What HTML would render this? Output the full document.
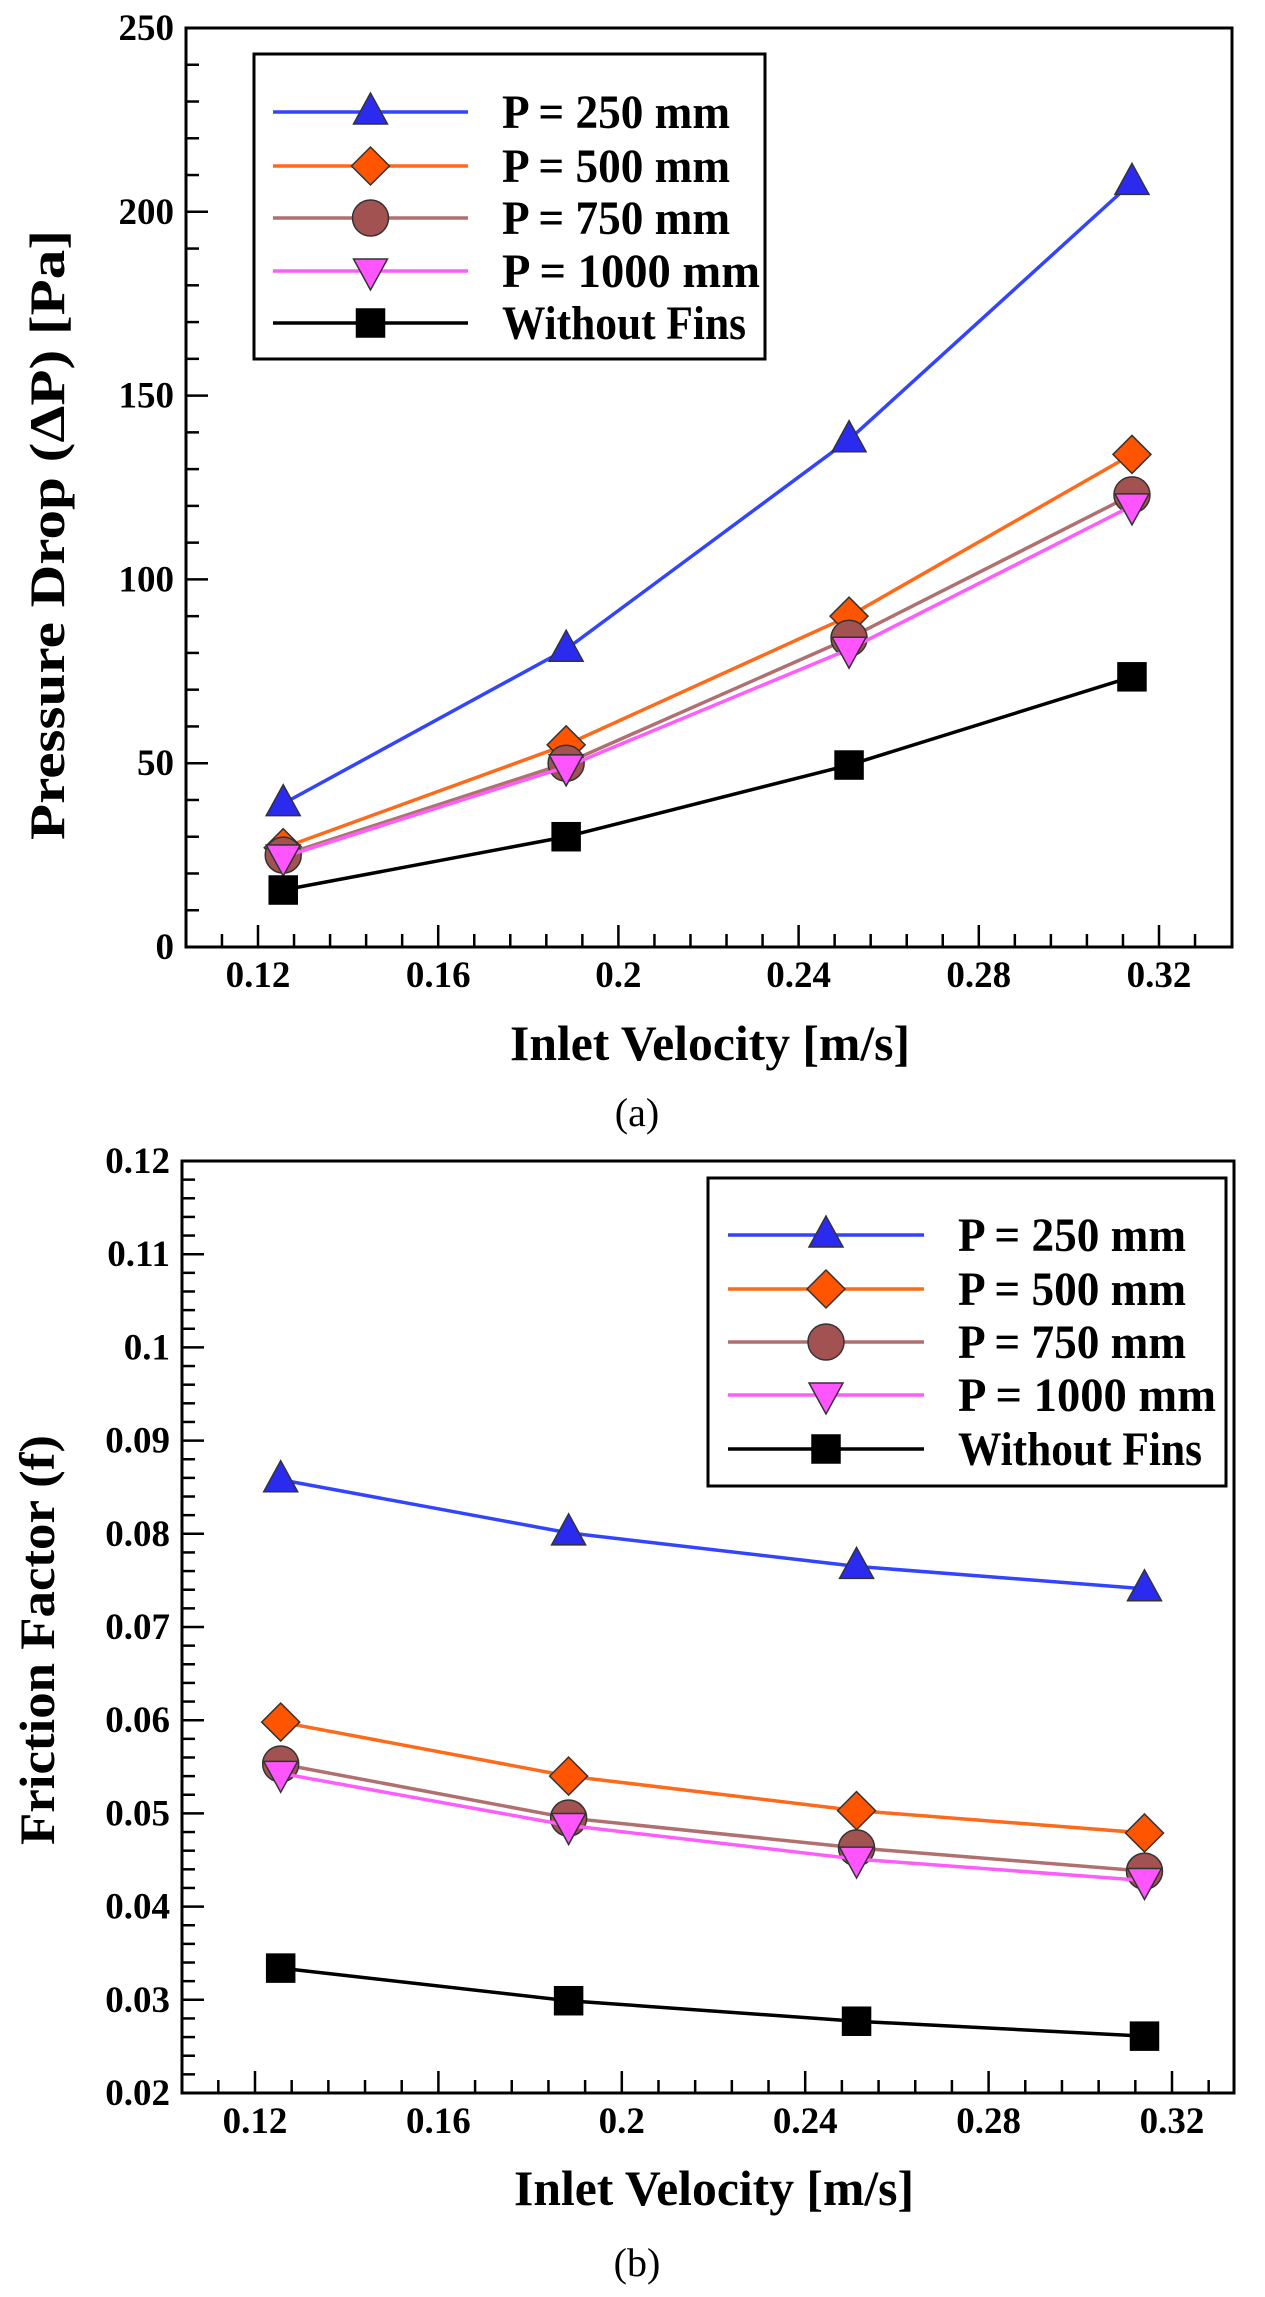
<!DOCTYPE html>
<html><head><meta charset="utf-8">
<style>
html,body{margin:0;padding:0;background:#fff;}
svg{display:block;}
text{font-family:"Liberation Serif",serif;font-weight:bold;fill:#000;}
</style></head>
<body>
<svg id="fig" width="1265" height="2297" viewBox="0 0 1265 2297" xmlns="http://www.w3.org/2000/svg">
<g id="chartA"></g>
<g id="chartB"></g>
<text x="637" y="1126" font-size="40" style="font-weight:normal" text-anchor="middle">(a)</text>
<text x="637" y="2276" font-size="40" style="font-weight:normal" text-anchor="middle">(b)</text>
</svg>
<script>
// shared data
const velocities = [0.1256, 0.1884, 0.2512, 0.314];
const seriesNames = ["P = 250 mm", "P = 500 mm", "P = 750 mm", "P = 1000 mm", "Without Fins"];
const xTicks = [0.12, 0.16, 0.2, 0.24, 0.28, 0.32];
const xTickLabels = ["0.12", "0.16", "0.2", "0.24", "0.28", "0.32"];
// chart a: pressure drop
const dpP250 = [39, 81, 138, 208];
const dpP500 = [27, 55, 90, 134];
const dpP750 = [25, 50, 84, 123];
const dpP1000 = [24.5, 49, 81, 120];
const dpNoFins = [15.5, 30, 49.5, 73.5];
const dpTicks = [0, 50, 100, 150, 200, 250];
const dpTickLabels = ["0", "50", "100", "150", "200", "250"];
// chart b: friction factor
const fP250 = [0.0858, 0.0801, 0.0765, 0.0741];
const fP500 = [0.0598, 0.054, 0.0503, 0.0479];
const fP750 = [0.0553, 0.0495, 0.0463, 0.0438];
const fP1000 = [0.0543, 0.0487, 0.0451, 0.0428];
const fNoFins = [0.0334, 0.0299, 0.0277, 0.0261];
const fTicks = [0.02, 0.03, 0.04, 0.05, 0.06, 0.07, 0.08, 0.09, 0.1, 0.11, 0.12];
const fTickLabels = ["0.02","0.03","0.04","0.05","0.06","0.07","0.08","0.09","0.1","0.11","0.12"];

const NS = "http://www.w3.org/2000/svg";
const legendTextLen = [228, 228, 228, 258, 244];
const styles = [
  {line:"#3344ff", fill:"#2b2bf0", m:"tri"},
  {line:"#ff6a1a", fill:"#ff5500", m:"dia"},
  {line:"#b07070", fill:"#a35252", m:"cir"},
  {line:"#ff5cff", fill:"#ff55ff", m:"itri"},
  {line:"#000000", fill:"#000000", m:"sq"}
];
function mk(tag, attrs, parent){
  const e = document.createElementNS(NS, tag);
  for (const k in attrs) e.setAttribute(k, attrs[k]);
  parent.appendChild(e);
  return e;
}
function marker(g, type, cx, cy, fill){
  let e;
  if (type === "tri") e = mk("polygon", {points:`${cx},${cy-19} ${cx-17},${cy+12} ${cx+17},${cy+12}`}, g);
  else if (type === "itri") e = mk("polygon", {points:`${cx},${cy+19} ${cx-17},${cy-12} ${cx+17},${cy-12}`}, g);
  else if (type === "dia") e = mk("polygon", {points:`${cx},${cy-19} ${cx+19},${cy} ${cx},${cy+19} ${cx-19},${cy}`}, g);
  else if (type === "cir") e = mk("circle", {cx:cx, cy:cy, r:18}, g);
  else e = mk("rect", {x:cx-14, y:cy-14, width:28, height:28}, g);
  e.setAttribute("fill", fill);
  e.setAttribute("stroke", type === "sq" ? "#000" : "#333");
  e.setAttribute("stroke-width", "1.5");
  return e;
}
function drawChart(g, cfg){
  const L=cfg.left, R=cfg.right, T=cfg.top, B=cfg.bottom;
  const xs = v => cfg.x0px + (v - 0.12) / 0.2 * (cfg.x1px - cfg.x0px);
  const ys = v => B - (v - cfg.ymin) / (cfg.ymax - cfg.ymin) * (B - T);
  const fr = mk("rect", {x:L, y:T, width:R-L, height:B-T, fill:"none", stroke:"#000", "stroke-width":3}, g);
  
  
  const step = 0.008;
  for (let v = 0.104; v < 0.34; v += step) {
    const px = xs(v);
    if (px <= L+2 || px >= R-2) continue;
    const major = xTicks.some(t => Math.abs(t - v) < 1e-6);
    mk("line", {x1:px, x2:px, y1:B, y2:B-(major?22:13), stroke:"#000", "stroke-width":2.5}, g);
  }
  xTicks.forEach((t,i)=>{
    const tx = mk("text", {x:xs(t), y:B+40, "font-size":37, "text-anchor":"middle"}, g);
    tx.textContent = xTickLabels[i];
    
    
  });
  const ys_ = cfg.yTicks;
  for (let i = 0; i < ys_.length; i++) {
    const py = ys(ys_[i]);
    mk("line", {x1:L, x2:L+22, y1:py, y2:py, stroke:"#000", "stroke-width":2.5}, g);
    const ty = mk("text", {x:L-12, y:py+12, "font-size":37, "text-anchor":"end"}, g);
    ty.textContent = cfg.yLabels[i];
    
    
    if (i < ys_.length - 1) {
      for (let k = 1; k < 5; k++) {
        const v = ys_[i] + (ys_[i+1]-ys_[i]) * k / 5;
        const pm = ys(v);
        mk("line", {x1:L, x2:L+13, y1:pm, y2:pm, stroke:"#000", "stroke-width":2.5}, g);
      }
    }
  }
  const xt = mk("text", {x:cfg.xTitleX, y:cfg.xTitleY, "font-size":50, "text-anchor":"middle", textLength:400, lengthAdjust:"spacingAndGlyphs"}, g);
  xt.textContent = "Inlet Velocity [m/s]";
  
  
  const yt = mk("text", {x:0, y:0, "font-size":50, "text-anchor":"middle", textLength:cfg.yTitleLen, lengthAdjust:"spacingAndGlyphs", transform:`translate(${cfg.yTitleX},${cfg.yTitleY}) rotate(-90)`}, g);
  yt.textContent = cfg.yTitle;
  
  
  cfg.series.forEach((vals, si)=>{
    const st = styles[si];
    const sg = mk("g", {}, g);
    
    
    const pts = vals.map((v,j)=>`${xs(velocities[j])},${ys(v)}`).join(" ");
    mk("polyline", {points:pts, fill:"none", stroke:st.line, "stroke-width":3.5, "stroke-linejoin":"round"}, sg);
    vals.forEach((v,j)=>{
      const m = marker(sg, st.m, xs(velocities[j]), ys(v), st.fill);
      
      
    });
  });
  const lg = mk("g", {}, g);
  
  
  const lb = cfg.legend;
  mk("rect", {x:lb.x, y:lb.y, width:lb.w, height:lb.h, fill:"#fff", stroke:"#000", "stroke-width":3}, lg);
  seriesNames.forEach((n,i)=>{
    const st = styles[i];
    const ry = lb.rows[i];
    const eg = mk("g", {}, lg);
    
    
    mk("line", {x1:lb.lx0, x2:lb.lx1, y1:ry, y2:ry, stroke:st.line, "stroke-width":3.5}, eg);
    marker(eg, st.m, (lb.lx0+lb.lx1)/2, ry, st.fill);
    const t = mk("text", {x:lb.tx, y:ry+16, "font-size":48, textLength:legendTextLen[i], lengthAdjust:"spacingAndGlyphs"}, eg);
    t.textContent = n;
  });
}
drawChart(document.getElementById("chartA"), {
  left:186, right:1232, top:28, bottom:947,
  x0px:258, x1px:1159, ymin:0, ymax:250,
  yTicks:dpTicks, yLabels:dpTickLabels,
  series:[dpP250, dpP500, dpP750, dpP1000, dpNoFins],
  yTitle:"Pressure Drop (\u0394P) [Pa]", yTitleX:64, yTitleY:535, yTitleLen:610,
  xTitleX:710, xTitleY:1060,
  legend:{x:254, y:54, w:511, h:305, rows:[112,166,218,271,323], lx0:273, lx1:468, tx:502}
});
drawChart(document.getElementById("chartB"), {
  left:182, right:1234, top:1161, bottom:2093,
  x0px:255, x1px:1172, ymin:0.02, ymax:0.12,
  yTicks:fTicks, yLabels:fTickLabels,
  series:[fP250, fP500, fP750, fP1000, fNoFins],
  yTitle:"Friction Factor (f)", yTitleX:54, yTitleY:1640, yTitleLen:410,
  xTitleX:714, xTitleY:2205,
  legend:{x:708, y:1178, w:518, h:308, rows:[1235,1289,1342,1395,1449], lx0:728, lx1:924, tx:958}
});
</script>
</body></html>
